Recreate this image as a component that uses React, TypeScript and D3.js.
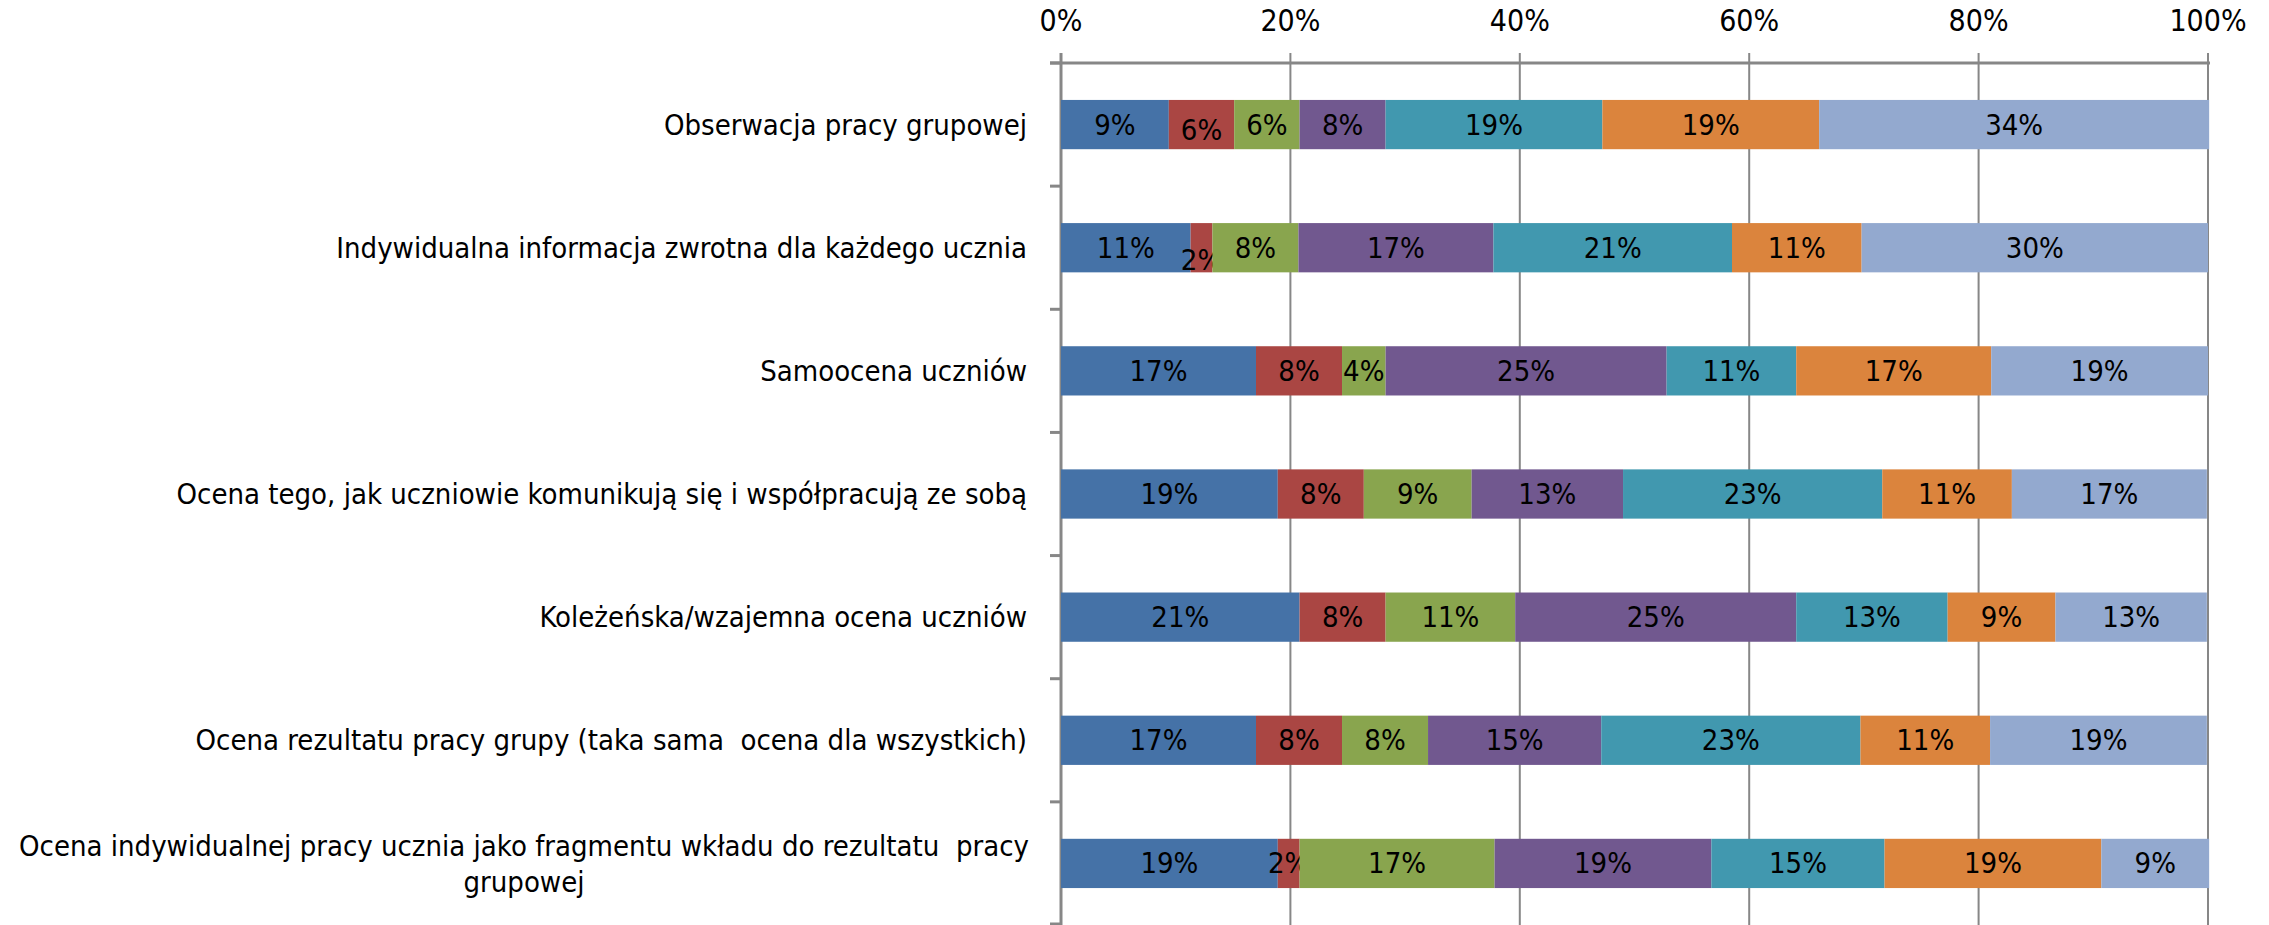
import React from "react";
import * as d3 from "d3";

const categories: string[] = [
  "Obserwacja pracy grupowej",
  "Indywidualna informacja zwrotna dla każdego ucznia",
  "Samoocena uczniów",
  "Ocena tego, jak uczniowie komunikują się i współpracują ze sobą",
  "Koleżeńska/wzajemna ocena uczniów",
  "Ocena rezultatu pracy grupy (taka sama  ocena dla wszystkich)",
  "Ocena indywidualnej pracy ucznia jako fragmentu wkładu do rezultatu  pracy|grupowej",
];

// seven series, values in % for each category (top to bottom)
const series1 = [9.4, 11.3, 17.0, 18.9, 20.8, 17.0, 18.9];
const series2 = [5.7, 1.9, 7.5, 7.5, 7.5, 7.5, 1.9];
const series3 = [5.7, 7.5, 3.8, 9.4, 11.3, 7.5, 17.0];
const series4 = [7.5, 17.0, 24.5, 13.2, 24.5, 15.1, 18.9];
const series5 = [18.9, 20.8, 11.3, 22.6, 13.2, 22.6, 15.1];
const series6 = [18.9, 11.3, 17.0, 11.3, 9.4, 11.3, 18.9];
const series7 = [34.0, 30.2, 18.9, 17.0, 13.2, 18.9, 9.4];

const allSeries = [series1, series2, series3, series4, series5, series6, series7];
const colors = ["#4572A7", "#AA4643", "#89A54E", "#71588F", "#4198AF", "#DB843D", "#93A9CF"];
const xTicks = [0, 20, 40, 60, 80, 100];

const W = 2269;
const H = 925;
const FONT = "'Liberation Sans Narrow', 'DejaVu Sans Condensed', 'Liberation Sans', sans-serif";

export default function App() {
  const x = d3.scaleLinear().domain([0, 100]).range([1061, 2208]);
  const y = d3.scaleBand<number>().domain(d3.range(categories.length)).range([63, 925]).paddingInner(0.6).paddingOuter(0.3);
  const band = d3.scaleBand<number>().domain(d3.range(categories.length)).range([63, 925]);
  const fmt = (v: number) => d3.format(".0f")(v) + "%";

  const labelDy: Record<string, number> = { "0-1": 5, "1-1": 12 };

  return (
    <svg width={W} height={H} style={{ position: "absolute", left: 0, top: 0, background: "#fff", whiteSpace: "pre" }} fontFamily={FONT}>
      {/* gridlines */}
      {xTicks.map((t) => (
        <line key={"g" + t} x1={x(t)} x2={x(t)} y1={53} y2={925} stroke="#878787" strokeWidth={t === 0 ? 3 : 2} />
      ))}
      {/* top axis line */}
      <line x1={1050} x2={x(100) + 2} y1={63} y2={63} stroke="#878787" strokeWidth={3} />
      {/* left axis ticks */}
      {d3.range(categories.length + 1).map((i) => {
        const yy = i < categories.length ? band(i)! : 924;
        return <line key={"lt" + i} x1={1050} x2={1061} y1={yy} y2={yy} stroke="#878787" strokeWidth={3} />;
      })}
      {/* tick labels */}
      {xTicks.map((t) => (
        <text key={"tl" + t} x={x(t)} y={20} textAnchor="middle" dominantBaseline="central" fontSize={30} fill="#000">
          {t}%
        </text>
      ))}
      {/* bars */}
      {categories.map((cat, ci) => {
        let acc = 0;
        const y0 = y(ci)!;
        const bh = y.bandwidth();
        return (
          <g key={"c" + ci}>
            {allSeries.map((s, si) => {
              const v = s[ci];
              const x0 = x(acc);
              acc += v;
              const x1 = x(acc);
              const dy = labelDy[ci + "-" + si] || 0;
              return (
                <g key={"s" + si}>
                  <rect x={x0} y={y0} width={x1 - x0} height={bh} fill={colors[si]} />
                  <text x={(x0 + x1) / 2} y={y0 + bh / 2 + dy} textAnchor="middle" dominantBaseline="central" fontSize={29} fill="#000">
                    {fmt(v)}
                  </text>
                </g>
              );
            })}
          </g>
        );
      })}
      {/* category labels */}
      {categories.map((cat, ci) => {
        const cy = y(ci)! + y.bandwidth() / 2;
        const lines = cat.split("|");
        if (lines.length === 1) {
          return (
            <text key={"cl" + ci} x={1027} y={cy} textAnchor="end" dominantBaseline="central" fontSize={29} fill="#000" style={{ whiteSpace: "pre" }}>
              {cat}
            </text>
          );
        }
        return (
          <text key={"cl" + ci} x={524} textAnchor="middle" fontSize={29} fill="#000" style={{ whiteSpace: "pre" }}>
            {lines.map((l, li) => (
              <tspan key={li} x={524} y={cy - 17 + li * 36} dominantBaseline="central">
                {l}
              </tspan>
            ))}
          </text>
        );
      })}
    </svg>
  );
}
